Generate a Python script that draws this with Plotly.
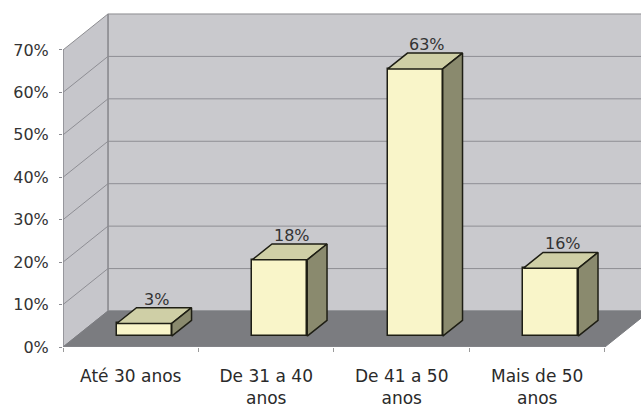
import plotly.graph_objects as go

# ---- data ----
categories = ["Até 30 anos", "De 31 a 40<br>anos", "De 41 a 50<br>anos", "Mais de 50<br>anos"]
values = [3, 18, 63, 16]
value_labels = ["3%", "18%", "63%", "16%"]
y_ticks = [0, 10, 20, 30, 40, 50, 60, 70]
y_tick_text = ["0%", "10%", "20%", "30%", "40%", "50%", "60%", "70%"]

# ---- 3D (oblique) geometry in data units ----
DX, DY = 0.332, 8.485          # full depth offset (x categories, y percent)
F0 = 0.30                      # depth position of bar fronts
BD = 0.44                      # bar depth fraction
BW = 0.406                     # bar width
YMAX = 70
YTOP = 81.78
XR = [-0.5, 3.766]

FRONT = "#f9f5c9"
TOP = "#cfcfa6"
SIDE = "#8a8a6e"
EDGE = "#1e1e14"
FONT = "DejaVu Sans, Verdana, sans-serif"

fig = go.Figure()

shapes = []
def poly(pts, fill, line="#8c8c90", width=1, layer="below"):
    path = "M " + " L ".join(f"{x},{y}" for x, y in pts) + " Z"
    shapes.append(dict(type="path", path=path, xref="x", yref="y",
                       fillcolor=fill, line=dict(color=line, width=width), layer=layer))

def seg(x0, y0, x1, y1, color="#8e8e94", width=1, layer="below"):
    shapes.append(dict(type="line", x0=x0, y0=y0, x1=x1, y1=y1, xref="x", yref="y",
                       line=dict(color=color, width=width), layer=layer))

xl = XR[0]
xb = XR[0] + DX
xr = 3.5
# back wall
poly([(xb, DY), (xb, YMAX + DY), (xr + DX + 0.2, YMAX + DY), (xr + DX + 0.2, DY)], "#c9c9cd")
# left wall
poly([(xl, 0), (xl, YMAX), (xb, YMAX + DY), (xb, DY)], "#c6c6cb")
# floor
poly([(xl, 0), (xr, 0), (xr + DX, DY), (xb, DY)], "#7b7c80", line="#7b7c80")
# gridlines
for v in y_ticks[1:-1]:
    seg(xb, v + DY, xr + DX + 0.2, v + DY)
    seg(xl, v, xb, v + DY)
# wall edges
seg(xb, DY, xb, YMAX + DY, "#8a8a90")
seg(xl, 0, xl, YMAX, "#8a8a90", 1.2)
seg(xl, 0, xr, 0, "#8a8a90", 1.2)

# ---- bars ----
for i, v in enumerate(values):
    cx = i + F0 * DX
    base = F0 * DY
    x0, x1 = cx - BW / 2, cx + BW / 2
    ddx, ddy = BD * DX, BD * DY
    # front face
    fig.add_trace(go.Bar(x=[cx], y=[v], base=[base], width=[BW],
                         marker=dict(color=FRONT, line=dict(color=EDGE, width=1.5)),
                         showlegend=False, hoverinfo="skip"))
    # top face
    fig.add_trace(go.Scatter(
        x=[x0, x1, x1 + ddx, x0 + ddx, x0],
        y=[base + v, base + v, base + v + ddy, base + v + ddy, base + v],
        fill="toself", fillcolor=TOP, mode="lines",
        line=dict(color=EDGE, width=1.5), showlegend=False, hoverinfo="skip"))
    # side face
    fig.add_trace(go.Scatter(
        x=[x1, x1 + ddx, x1 + ddx, x1, x1],
        y=[base, base + ddy, base + v + ddy, base + v, base],
        fill="toself", fillcolor=SIDE, mode="lines",
        line=dict(color=EDGE, width=1.5), showlegend=False, hoverinfo="skip"))

# data labels
annotations = []
for i, (v, t) in enumerate(zip(values, value_labels)):
    annotations.append(dict(x=i + F0 * DX + 0.09, y=v + (F0 + BD) * DY, text=t,
                            xref="x", yref="y", showarrow=False, yanchor="bottom",
                            yshift=-3, font=dict(family=FONT, size=16, color="#333333")))

fig.update_layout(
    width=641, height=412,
    margin=dict(l=63, r=0, t=0, b=65),
    paper_bgcolor="white", plot_bgcolor="white",
    shapes=shapes, annotations=annotations,
    bargap=0,
    xaxis=dict(range=XR, showgrid=False, zeroline=False, showline=False,
               tickmode="array", tickvals=[0, 1, 2, 3], ticktext=categories,
               ticks="", ticklabelstandoff=17,
               tickfont=dict(family=FONT, size=17, color="#2a2a2a"),
               minor=dict(tickmode="array", tickvals=[-0.5, 0.5, 1.5, 2.5, 3.5],
                          ticks="outside", ticklen=4, tickcolor="#9a9a9a")),
    yaxis=dict(range=[0, YTOP], showgrid=False, zeroline=False, showline=False,
               tickmode="array", tickvals=y_ticks, ticktext=y_tick_text,
               ticks="outside", ticklen=3, tickcolor="#8a8a90", ticklabelstandoff=7,
               tickfont=dict(family=FONT, size=16, color="#333333")),
)

fig.write_html("out.html")
